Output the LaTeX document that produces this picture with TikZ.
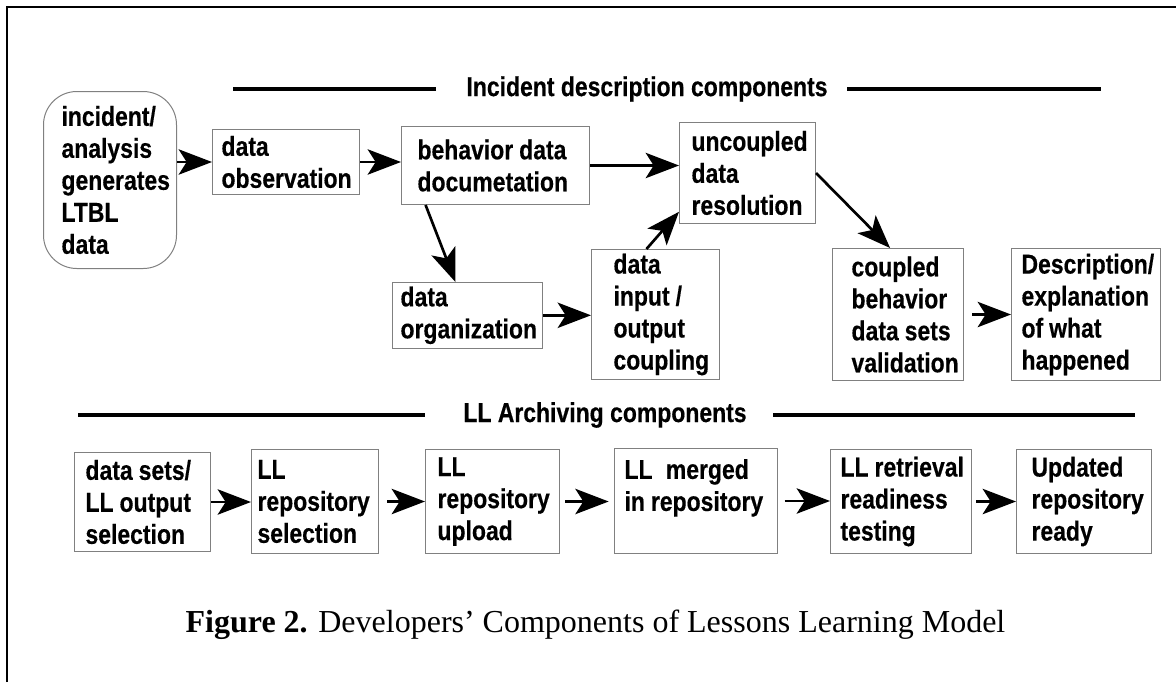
\documentclass[tikz,border=0pt]{standalone}
\usepackage{fontspec}
\usetikzlibrary{arrows.meta,calc}
\newfontfamily\boxfont[FakeStretch=0.84, BoldFeatures={FakeBold=0.4}]{Liberation Sans}
\newfontfamily\capfont{Liberation Serif}

\tikzset{every picture/.style={line width=0.75pt}}
\tikzset{
  box/.style 2 args={draw=black!50, line width=0.75pt, anchor=north west, align=left,
    inner ysep=3pt, inner xsep=#1, text width=#2,
    execute at begin node={\hyphenpenalty=10000\exhyphenpenalty=10000\spaceskip=.22em},
    font=\boxfont\bfseries\fontsize{20.5pt}{24pt}\selectfont},
  hdr/.style={inner sep=0.75pt, font=\boxfont\bfseries\fontsize{20.5pt}{24pt}\selectfont},
  arr/.style={line width=2pt, -{Stealth[length=25pt,width=19pt,inset=6pt]}},
  rule/.style={line width=3pt},
}

\begin{document}
\begin{tikzpicture}[x=0.75pt,y=0.75pt,yscale=-1,xscale=1]
\useasboundingbox (0,0) rectangle (1176,682);

%frame
\draw[line width=2pt] (7,682) -- (7,7) -- (1180,7);

%headers
\node[hdr] (hdrA) at (647,89) {Incident description components};
\draw[rule] (hdrA.west) ++(-29,0) -- ++(-203,0);
\draw[rule] (hdrA.east) ++(18,0) -- ++(254,0);
\node[hdr] (hdrB) at (605,415) {LL Archiving components};
\draw[rule] (hdrB.west) ++(-37,0) -- ++(-347,0);
\draw[rule] (hdrB.east) ++(25,0) -- ++(362,0);

%incident description row
\node[box={13.5pt}{72.75pt}, rounded corners=25pt, minimum height=132.75pt] (inc) at (43,91) {incident/\\analysis\\generates\\LTBL\\data};
\node[box={6.75pt}{96.75pt}, minimum height=48.75pt] (obs) at (212,129) {data\\observation};
\node[box={12pt}{117pt}, minimum height=58.5pt] (doc) at (401,126) {behavior~data\\documetation};
\node[box={6pt}{100.5pt}, minimum height=47.25pt] (org) at (392,282) {data\\organization};
\node[box={16.5pt}{63pt}, minimum height=97.5pt] (io) at (591,249) {data\\input~/\\output\\coupling};
\node[box={9pt}{84pt}, minimum height=75.75pt] (unc) at (679,122) {uncoupled\\data\\resolution};
\node[box={14.25pt}{69.75pt}, minimum height=99pt] (cpl) at (832,248) {coupled\\behavior\\data~sets\\validation};
\node[box={7.5pt}{96.75pt}, minimum height=99pt] (dsc) at (1011,248) {Description/\\explanation\\of~what\\happened};

%archiving row
\node[box={8.25pt}{85.5pt}, minimum height=74.25pt] (sel) at (74,452) {data~sets/\\LL~output\\selection};
\node[box={4.5pt}{86.25pt}, minimum height=78pt] (rep) at (251,449) {LL\\repository\\selection};
\node[box={9pt}{82.5pt}, minimum height=78pt] (upl) at (425,449) {LL\\repository\\upload};
\node[box={7.5pt}{107.25pt}, minimum height=78.75pt] (mrg) at (614,448) {LL\hspace{10pt}merged\\in~repository\\~};
\node[box={7.5pt}{90.75pt}, minimum height=78pt] (tst) at (830,449) {LL~retrieval\\readiness\\testing};
\node[box={11.25pt}{78.75pt}, minimum height=78pt] (rdy) at (1016,449) {Updated\\repository\\ready};

%connectors
\draw[arr] (obs.west -| inc.east) -- (obs.west);
\draw[arr] (obs.east) -- (obs.east -| doc.west);
\draw[arr] (doc.east) -- (doc.east -| unc.west);
\draw[arr] ($(doc.south west)!0.13!(doc.south east)$) -- ($(org.north west)!0.42!(org.north east)$);
\draw[arr] (org.east) -- (org.east -| io.west);
\draw[arr] ($(io.north west)!0.43!(io.north east)$) -- ($(unc.south west)!0.12!(unc.north west)$);
\draw[arr] (unc.east) -- ($(cpl.north west)!0.44!(cpl.north east)$);
\draw[arr, shorten <=6pt] (cpl.east) -- (dsc.west);

\draw[arr] (sel.east) -- (sel.east -| rep.west);
\draw[arr, shorten <=6pt] (rep.east) -- (rep.east -| upl.west);
\draw[arr, shorten <=4pt, shorten >=4pt] (upl.east) -- (upl.east -| mrg.west);
\draw[arr, shorten <=5pt] (mrg.east) -- (mrg.east -| tst.west);
\draw[arr, shorten <=3pt] (tst.east) -- (tst.east -| rdy.west);

%caption
\node[anchor=base, inner sep=0pt, font=\capfont\fontsize{24pt}{28pt}\selectfont] (cap) at (595.5,632) {\textbf{Figure 2.} Developers’ Components of Lessons Learning Model};

\end{tikzpicture}
\end{document}
